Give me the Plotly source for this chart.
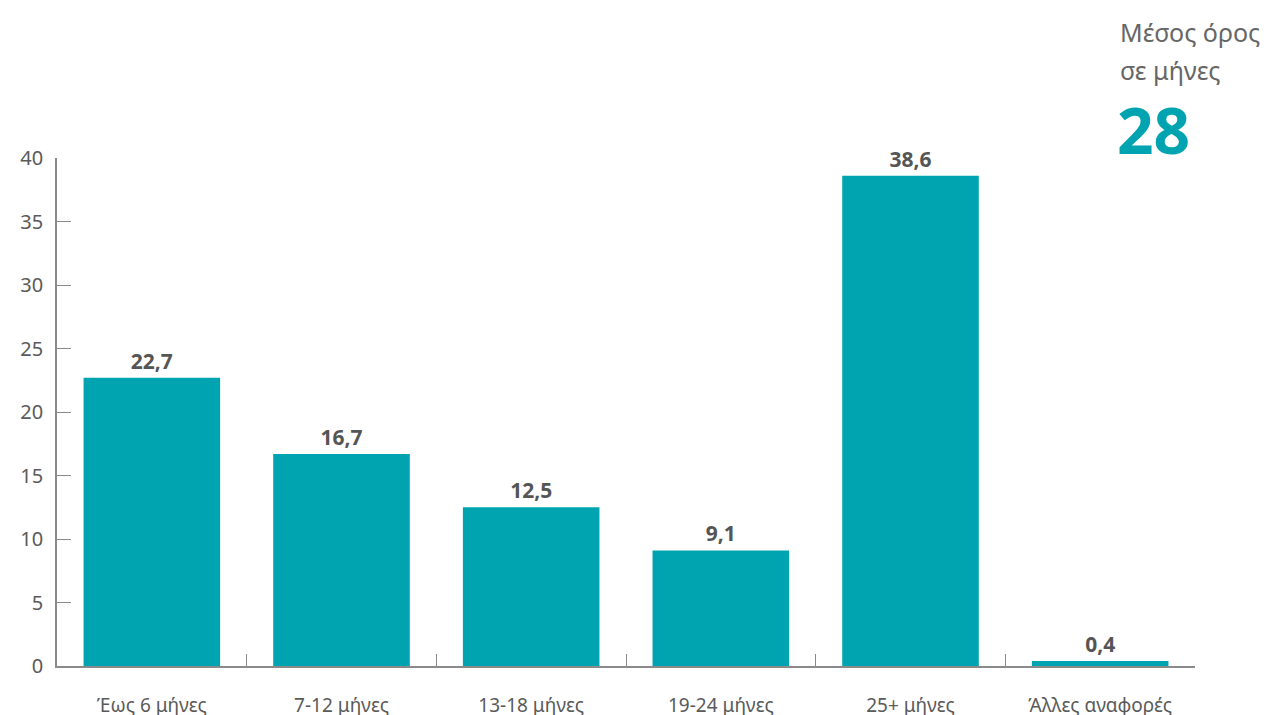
import plotly.graph_objects as go

categories = ["Έως 6 μήνες", "7-12 μήνες", "13-18 μήνες", "19-24 μήνες", "25+ μήνες", "Άλλες αναφορές"]
values = [22.7, 16.7, 12.5, 9.1, 38.6, 0.4]
y_ticks = [0, 5, 10, 15, 20, 25, 30, 35, 40]
avg_line1 = "Μέσος όρος"
avg_line2 = "σε μήνες"
avg_value = "28"

teal = "#00A3B0"
gray = "#555555"
axis_gray = "#8a8a8a"

fig = go.Figure(go.Bar(
    x=categories, y=values,
    marker=dict(color=teal, line=dict(width=0)),
    texttemplate="<b>%{y:.1f}</b>", textposition="outside",
    textfont=dict(size=21, color=gray, family="Noto Sans"),
    cliponaxis=False, width=0.72,
))

fig.update_layout(
    width=1284, height=715,
    margin=dict(l=49, r=97, t=150, b=57),
    paper_bgcolor="white", plot_bgcolor="white",
    separators=",.",
    showlegend=False,
    font=dict(family="Noto Sans", color=gray),
    xaxis=dict(
        type="category", showline=True, linecolor=axis_gray, linewidth=1.5,
        ticks="inside", tickson="boundaries", ticklen=12, tickcolor=axis_gray,
        tickfont=dict(size=19, color="#5a5a5a"), showgrid=False, ticklabelstandoff=21,
        automargin=False,
    ),
    yaxis=dict(
        range=[0, 40], tickvals=y_ticks, showline=True, linecolor=axis_gray, linewidth=1.5,
        ticks="inside", ticklen=14, tickcolor=axis_gray,
        tickfont=dict(size=20, color="#5a5a5a"), showgrid=False, zeroline=False,
        ticklabelstandoff=8, automargin=False,
    ),
    annotations=[
        dict(text=avg_line1, xref="paper", yref="paper", x=0.932, y=1.248, xanchor="left",
             yanchor="middle", showarrow=False,
             font=dict(size=25, color="#666666", family="Noto Sans")),
        dict(text=avg_line2, xref="paper", yref="paper", x=0.932, y=1.173, xanchor="left",
             yanchor="middle", showarrow=False,
             font=dict(size=25, color="#666666", family="Noto Sans")),
        dict(text="<b>" + avg_value + "</b>", xref="paper", yref="paper", x=0.93, y=1.057,
             xanchor="left", yanchor="middle", showarrow=False,
             font=dict(size=64, color=teal, family="Noto Sans")),
    ],
)

fig.write_html("out.html")
